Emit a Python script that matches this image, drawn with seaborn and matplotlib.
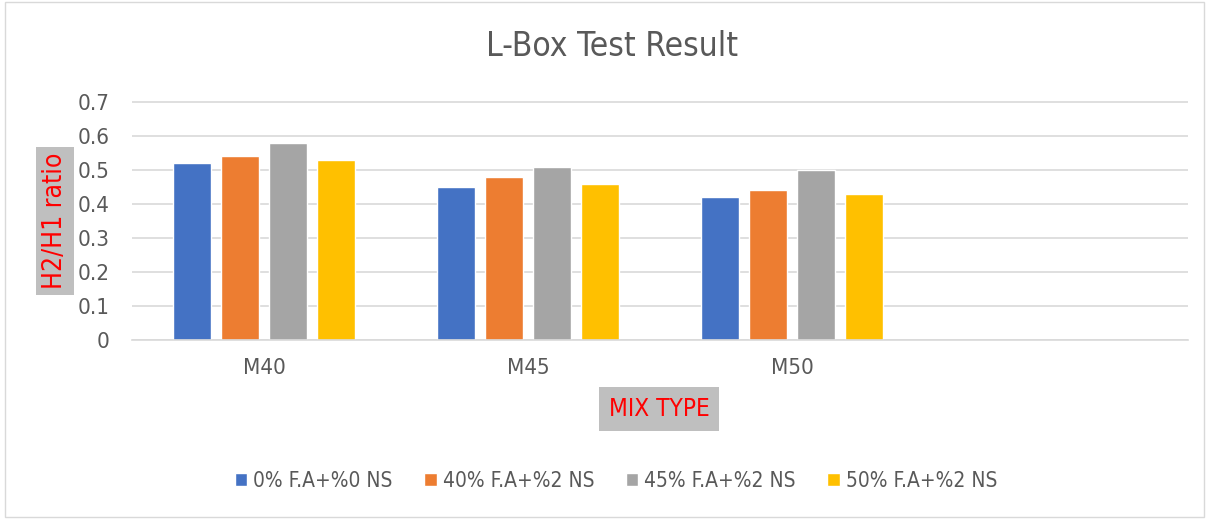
import pandas as pd
import matplotlib.pyplot as plt
import seaborn as sns
from matplotlib.patches import Rectangle

# data
mixes = ["M40", "M45", "M50"]
series = ["0% F.A+%0 NS", "40% F.A+%2 NS", "45% F.A+%2 NS", "50% F.A+%2 NS"]
vals_0 = [0.52, 0.45, 0.42]
vals_40 = [0.54, 0.48, 0.44]
vals_45 = [0.58, 0.51, 0.50]
vals_50 = [0.53, 0.46, 0.43]
colors = ["#4472C4", "#ED7D31", "#A5A5A5", "#FFC000"]

rows = []
for s, vals in zip(series, [vals_0, vals_40, vals_45, vals_50]):
    for m, v in zip(mixes, vals):
        rows.append({"mix": m, "series": s, "value": v})
df = pd.DataFrame(rows)

sns.set_theme(style="white")
# narrow look of the original (Calibri-ish) -> condensed DejaVu
plt.rcParams["font.family"] = ["DejaVu Sans"]
plt.rcParams["font.stretch"] = "condensed"

fig = plt.figure(figsize=(12.09, 5.19), dpi=100)
ax = fig.add_axes([132 / 1209, 1 - 340 / 519, (1188 - 132) / 1209, (340 - 92) / 519])

# fourth slot left empty like the original
order = mixes + [" "]
sns.barplot(data=df, x="mix", y="value", hue="series", order=order, hue_order=series,
            palette=colors, width=0.73, gap=0.22, ax=ax, legend=True, saturation=1)

ax.set_ylim(0, 0.7 * 248 / 238)
ax.set_xlim(-0.5, 3.5)
ax.set_yticks([0, 0.1, 0.2, 0.3, 0.4, 0.5, 0.6, 0.7])
ax.set_yticklabels(["0", "0.1", "0.2", "0.3", "0.4", "0.5", "0.6", "0.7"])
ax.grid(axis="y", color="#D9D9D9", linewidth=1.2)
ax.set_axisbelow(True)
for sp in ["top", "right", "left"]:
    ax.spines[sp].set_visible(False)
ax.spines["bottom"].set_color("#D9D9D9")
ax.spines["bottom"].set_linewidth(1.2)
ax.tick_params(axis="both", length=0, labelsize=16, labelcolor="#595959")
ax.tick_params(axis="y", pad=16)
ax.tick_params(axis="x", pad=13)
ax.set_xlabel("")
ax.set_ylabel("")

fig.text(659 / 1209, 1 - 409 / 519, "MIX TYPE", color="red", fontsize=17.5,
         ha="center", va="center",
         bbox=dict(boxstyle="square,pad=0.4", fc="#BFBFBF", ec="none"))
fig.text(55 / 1209, 1 - 221 / 519, "H2/H1 ratio", color="red", fontsize=19,
         rotation=90, ha="center", va="center",
         bbox=dict(boxstyle="square,pad=0.22", fc="#BFBFBF", ec="none"))

fig.text(612 / 1209, 1 - 47 / 519, "L-Box Test Result", color="#595959", fontsize=24,
         ha="center", va="center")

handles, labels = ax.get_legend_handles_labels()
ax.legend_.remove()
fig.legend(handles, labels, loc="center", bbox_to_anchor=(616 / 1209, 1 - 481 / 519),
           ncol=4, frameon=False, fontsize=15, labelcolor="#595959",
           handlelength=0.6, handleheight=0.6, handletextpad=0.3, columnspacing=1.5)

# chart border
fig.add_artist(Rectangle((0.004, 0.004), 0.992, 0.992, transform=fig.transFigure,
                         fill=False, ec="#D9D9D9", lw=1))

fig.savefig("out.png", dpi=100)
